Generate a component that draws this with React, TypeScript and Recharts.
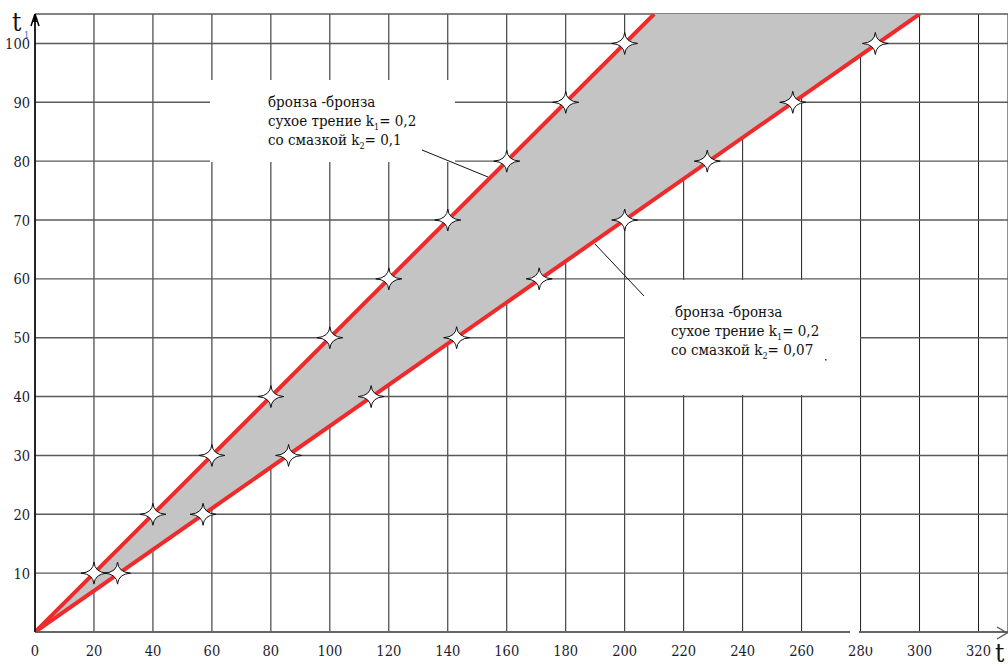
import React from 'react';
import { ComposedChart, XAxis, YAxis, CartesianGrid, Line, Area, Scatter } from 'recharts';

const xTicks = [0, 20, 40, 60, 80, 100, 120, 140, 160, 180, 200, 220, 240, 260, 280, 300, 320];
const yTicks = [0, 10, 20, 30, 40, 50, 60, 70, 80, 90, 100];

// stars on the k2 = 0.1 line
const upperStarT = [20, 40, 60, 80, 100, 120, 140, 160, 180, 200];
const upperStarT1 = [10, 20, 30, 40, 50, 60, 70, 80, 90, 100];
// stars on the k2 = 0.07 line
const lowerStarT = [28, 57, 86, 114, 143, 171, 200, 228, 257, 285];
const lowerStarT1 = [10, 20, 30, 40, 50, 60, 70, 80, 90, 100];

// line ends (origin and where each line leaves the top of the plot)
const lineT = [0, 210, 300];
const upperLineT1: (number | null)[] = [0, 105, null];
const lowerLineT1: (number | null)[] = [0, null, 105];
const bandLow = [0, 73.5, 105];
const bandHigh = [0, 105, 105];

const chartData = lineT.map((t, i) => ({
  t,
  up: upperLineT1[i],
  lo: lowerLineT1[i],
  band: [bandLow[i], bandHigh[i]],
}));
const upperStars = upperStarT.map((t, i) => ({ t, t1: upperStarT1[i] }));
const lowerStars = lowerStarT.map((t, i) => ({ t, t1: lowerStarT1[i] }));

const FONT = "'DejaVu Serif Condensed', 'DejaVu Serif', serif";
const TXT: React.CSSProperties = { fontFamily: FONT, fontStretch: 'condensed' };
const TICK_COLOR = '#1b1b30';

const Star = (props: any) => {
  const { cx, cy } = props;
  if (cx == null || cy == null) return null;
  const c = 0.8;
  const d = `M${cx},${cy - 11} Q${cx + c},${cy - c} ${cx + 13},${cy} Q${cx + c},${cy + c} ${cx},${cy + 11} Q${cx - c},${cy + c} ${cx - 13},${cy} Q${cx - c},${cy - c} ${cx},${cy - 11} Z`;
  return <path d={d} fill="#ffffff" stroke="#111" strokeWidth={1} />;
};

const XTick = (props: any) => {
  const { x, payload } = props;
  return (
    <text x={x} y={656} textAnchor="middle" style={TXT} fontSize={14.5} fill={TICK_COLOR}>
      {payload.value}
    </text>
  );
};

const YTick = (props: any) => {
  const { y, payload } = props;
  if (payload.value === 0) return null;
  return (
    <text x={30} y={y + 5.5} textAnchor="end" style={TXT} fontSize={14.5} fill={TICK_COLOR}>
      {payload.value}
    </text>
  );
};

const Note = ({ x, x1, y, dotX, k2, lh }: { x: number; x1: number; y: number; dotX: number; k2: string; lh: number }) => (
  <text style={TXT} fontSize={15} fill="#111">
    <tspan x={dotX} y={y} fill="#bbb" fontSize={9}>.</tspan>
    <tspan x={x1} y={y}>бронза -бронза</tspan>
    <tspan x={x} y={y + lh}>сухое трение k</tspan>
    <tspan fontSize={9} dy={4}>1</tspan>
    <tspan dy={-4}>= 0,2</tspan>
    <tspan x={x} y={y + 2 * lh}>со смазкой k</tspan>
    <tspan fontSize={9} dy={4}>2</tspan>
    <tspan dy={-4}>{`= ${k2}`}</tspan>
  </text>
);

export default function App() {
  return (
    <div style={{ position: 'absolute', left: 0, top: 0, width: 1008, height: 664, background: '#fff' }}>
      <ComposedChart
        width={1008}
        height={664}
        data={chartData}
        margin={{ top: 14, right: 0, bottom: 0, left: 0 }}
      >
        <CartesianGrid horizontal={false} stroke="#1e1e1e" strokeWidth={1} />
        <CartesianGrid vertical={false} stroke="#5a5a5a" strokeWidth={1.4} />
        <XAxis
          type="number"
          dataKey="t"
          domain={[0, 330]}
          ticks={xTicks}
          allowDataOverflow
          height={32}
          axisLine={{ stroke: '#666', strokeWidth: 2 }}
          tickLine={false}
          tick={<XTick />}
          interval={0}
        />
        <YAxis
          type="number"
          domain={[0, 105]}
          ticks={yTicks}
          allowDataOverflow
          width={35}
          axisLine={{ stroke: '#000', strokeWidth: 1.5 }}
          tickLine={false}
          tick={<YTick />}
          interval={0}
        />
        <Area
          dataKey="band"
          type="linear"
          fill="#c4c4c4"
          fillOpacity={1}
          stroke="none"
          connectNulls
          isAnimationActive={false}
          dot={false}
          activeDot={false}
        />
        <Scatter data={upperStars} dataKey="t1" shape={<Star />} isAnimationActive={false} />
        <Scatter data={lowerStars} dataKey="t1" shape={<Star />} isAnimationActive={false} />
        <Line
          dataKey="up"
          type="linear"
          stroke="#ee2a2a"
          strokeWidth={4}
          dot={false}
          activeDot={false}
          connectNulls
          isAnimationActive={false}
        />
        <Line
          dataKey="lo"
          type="linear"
          stroke="#ee2a2a"
          strokeWidth={4}
          dot={false}
          activeDot={false}
          connectNulls
          isAnimationActive={false}
        />
      </ComposedChart>
      <svg
        width={1008}
        height={664}
        style={{ position: 'absolute', left: 0, top: 0, pointerEvents: 'none' }}
      >
        {/* annotation boxes */}
        <rect x={210} y={80} width={245} height={82} fill="#fff" />
        <rect x={625} y={280} width={235} height={115} fill="#fff" />
        <Note x={268} x1={268} y={107} dotX={263} k2="0,1" lh={19} />
        <Note x={671} x1={675} y={317} dotX={670} k2="0,07" lh={19} />
        <rect x={825} y={359} width={1.5} height={1.5} fill="#333" />
        <line x1={422} y1={150} x2={488} y2={177} stroke="#111" strokeWidth={1} />
        <line x1={595} y1={244} x2={644} y2={296} stroke="#111" strokeWidth={1} />
        {/* axis arrows */}
        <path d="M35,14 L31,26 M35,14 L39,26" stroke="#000" strokeWidth={1.5} fill="none" />
        <path d="M35,14 L33,22 L37,22 Z" fill="#000" />
        <path d="M997,627 L1007,633 L997,639" stroke="#555" strokeWidth={1.3} fill="none" />
        {/* axis titles */}
        <text x={12} y={31} style={TXT} fontSize={26} fill="#111">t</text>
        <text x={24} y={38} style={TXT} fontSize={9} fill="#2c62c8">1</text>
        <text x={995} y={662} style={TXT} fontSize={26} fill="#111">t</text>
        {/* small artefacts near 280 */}
        <rect x={850} y={628} width={9} height={9} fill="#fff" />
        <rect x={867} y={641} width={10} height={6} fill="#fff" />
      </svg>
    </div>
  );
}
